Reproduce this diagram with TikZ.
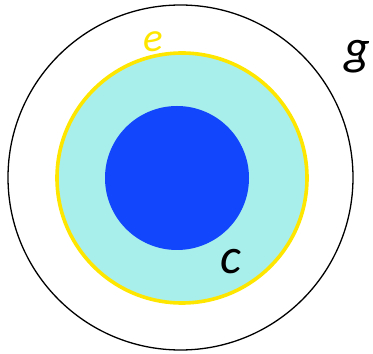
\documentclass[tikz,border=0pt]{standalone}
\usepackage{fontspec}
\setmainfont{Carlito}
\usepackage{xcolor}
\definecolor{coreblue}{RGB}{18,70,252}
\definecolor{shellcyan}{RGB}{168,238,234}
\definecolor{edgeyellow}{RGB}{255,230,0}

\begin{document}
\begin{tikzpicture}[
  x=1pt, y=1pt,
  lbl/.style={font=\fontsize{50}{50}\selectfont\itshape, inner sep=0pt, anchor=base}
]
\useasboundingbox (0,0) rectangle (373,354);

% ---------- rings ----------
\draw[black, line width=1.3pt] (180.5,176.5) circle[radius=172.5];
\fill[shellcyan] (182,176) circle[radius=125];
\draw[edgeyellow, line width=3.6pt] (182,176) circle[radius=125];
\fill[coreblue] (177,176) circle[radius=72];

% ---------- labels ----------
\node[lbl, text=edgeyellow, font=\fontsize{41}{41}\selectfont\itshape] (e) at (153,302) {e};
\node[lbl] (g) at (357,289) {g};
\node[lbl] (c) at (231,80) {c};

\end{tikzpicture}
\end{document}
